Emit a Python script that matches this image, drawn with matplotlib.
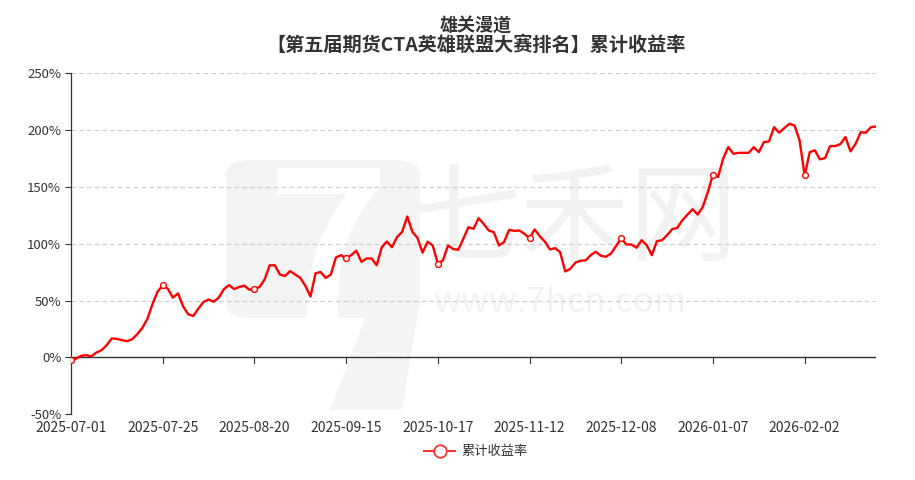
import matplotlib
matplotlib.use("Agg")
import matplotlib.pyplot as plt
from matplotlib.lines import Line2D
from matplotlib.patches import FancyBboxPatch, Polygon
from matplotlib.ticker import FuncFormatter

plt.rcParams['font.family'] = ['Noto Sans CJK SC', 'DejaVu Sans']

title_line1 = "雄关漫道"
title_line2 = "【第五届期货CTA英雄联盟大赛排名】累计收益率"
series_name = "累计收益率"

tick_labels = ["2025-07-01", "2025-07-25", "2025-08-20", "2025-09-15", "2025-10-17",
               "2025-11-12", "2025-12-08", "2026-01-07", "2026-02-02"]
tick_step = 18

returns = [
    -2.3, -1.0, 1.5, 2.0, 1.0, 4.4, 6.4, 10.8, 16.7, 16.4,
    15.2, 14.3, 16.0, 20.5, 26.0, 34.0, 47.0, 58.0, 63.4, 60.5,
    52.6, 56.4, 45.0, 38.0, 36.5, 43.0, 48.8, 51.0, 49.0, 52.6,
    60.0, 63.7, 60.2, 62.0, 63.2, 59.6, 60.2, 62.0, 68.6, 81.1,
    81.1, 73.0, 71.6, 76.0, 73.0, 70.0, 63.0, 53.6, 74.0, 75.2,
    70.0, 73.0, 88.0, 90.0, 87.1, 90.0, 94.0, 84.1, 87.1, 87.1,
    81.1, 97.0, 102.0, 97.0, 106.0, 110.5, 124.0, 110.5, 105.3, 92.2,
    101.8, 98.4, 82.5, 85.4, 98.6, 95.4, 94.7, 104.4, 114.6, 113.2,
    122.5, 117.5, 111.7, 110.2, 98.5, 101.5, 112.3, 111.4, 111.7, 108.8,
    105.0, 112.6, 106.7, 102.0, 95.0, 96.2, 92.7, 75.7, 78.0, 83.4,
    85.1, 85.4, 90.0, 93.0, 89.5, 88.6, 91.5, 98.2, 104.7, 99.4,
    99.4, 96.5, 103.2, 98.8, 90.0, 102.3, 103.2, 107.6, 112.9, 114.0,
    120.8, 125.7, 130.4, 125.7, 132.5, 145.6, 160.8, 158.8, 174.9, 185.1,
    179.2, 180.0, 180.0, 180.0, 185.0, 180.7, 189.5, 190.0, 202.6, 197.7,
    201.8, 205.6, 204.1, 191.0, 160.2, 180.7, 182.2, 174.3, 175.4, 186.0,
    186.0, 187.7, 193.9, 181.3, 188.0, 198.2, 197.7, 202.6, 203.2,
]

y_ticks = [-50, 0, 50, 100, 150, 200, 250]

W, H = 915, 480
fig = plt.figure(figsize=(W / 100, H / 100), dpi=100)
fig.patch.set_facecolor("white")

left, right = 71 / W, 876 / W
top, bottom = 1 - 73.3 / H, 1 - 414.3 / H
ax = fig.add_axes([left, bottom, right - left, top - bottom])

# watermark (behind everything inside the axes)
wm = "#f2f2f2"
tf = fig.transFigure


def fp(px, py):
    return (px / W, 1 - py / H)


logo = FancyBboxPatch(fp(226, 318), 194 / W, 158 / H,
                      boxstyle="round,pad=0,rounding_size=0.03", transform=tf,
                      facecolor="#f4f4f4", edgecolor="none", zorder=0.1, clip_on=False)
ax.add_artist(logo)
stroke = Polygon([fp(372, 300), fp(420, 300), fp(402, 410), fp(330, 410)], closed=True,
                 transform=tf, facecolor="#f4f4f4", edgecolor="none", zorder=0.1,
                 clip_on=False)
ax.add_artist(stroke)
ax.text(328 / W, 1 - 262 / H, "7", transform=tf, fontsize=150, color="white",
        ha="center", va="center", zorder=0.2, fontweight="bold", fontstyle="italic")
ax.text(575 / W, 1 - 222 / H, "七禾网", transform=tf, fontsize=78, color=wm,
        ha="center", va="center", zorder=0.2)
ax.text(560 / W, 1 - 302 / H, "www.7hcn.com", transform=tf, fontsize=25, color=wm,
        ha="center", va="center", zorder=0.2)

n = len(returns)
x = list(range(n))

ax.set_xlim(0, n - 1)
ax.set_ylim(-50, 250)

for yv in y_ticks:
    ax.axhline(yv, color="#cccccc", lw=0.8, ls=(0, (4, 3)), zorder=1)
ax.axhline(0, color="#333333", lw=1.0, zorder=2)

ax.plot(x, returns, color="#ff0000", lw=1.7, zorder=3, solid_joinstyle="round")
mk = list(range(0, n, tick_step))
ax.plot(mk, [returns[i] for i in mk], ls="none", marker="o", ms=4.2,
        mfc="white", mec="#ff0000", mew=1.0, zorder=4)

# x ticks on the zero line
for i in mk:
    ax.plot([i, i], [0, -4.5], color="#333333", lw=0.8, zorder=2, clip_on=False)

ax.set_xticks(mk)
ax.set_xticklabels(tick_labels[:len(mk)])
ax.tick_params(axis="x", length=0, pad=5, labelsize=10, labelcolor="#333333")

ax.set_yticks(y_ticks)
ax.yaxis.set_major_formatter(FuncFormatter(lambda v, p: f"{int(v)}%"))
ax.tick_params(axis="y", length=4, width=0.8, color="#333333", pad=3,
               labelsize=9.5, labelcolor="#333333")

for s in ["top", "right", "bottom"]:
    ax.spines[s].set_visible(False)
ax.spines["left"].set_color("#333333")
ax.spines["left"].set_linewidth(0.9)
ax.patch.set_alpha(0)

cx = 476 / W
fig.text(cx, 1 - 26 / H, title_line1, ha="center", va="center", fontsize=13,
         fontweight="bold", color="#333333")
fig.text(cx, 1 - 45 / H, title_line2, ha="center", va="center", fontsize=13.8,
         fontweight="bold", color="#333333")

handle = Line2D([0], [0], color="#ff3333", lw=1.5, marker="o", ms=9,
                mfc="white", mec="#ff3333", mew=1.3)
fig.legend([handle], [series_name], loc="center", bbox_to_anchor=(476 / W, 1 - 452 / H),
           frameon=False, fontsize=9.5, handlelength=2.3, handletextpad=0.5,
           labelcolor="#333333")

fig.savefig("out.png", dpi=100, facecolor="white")
